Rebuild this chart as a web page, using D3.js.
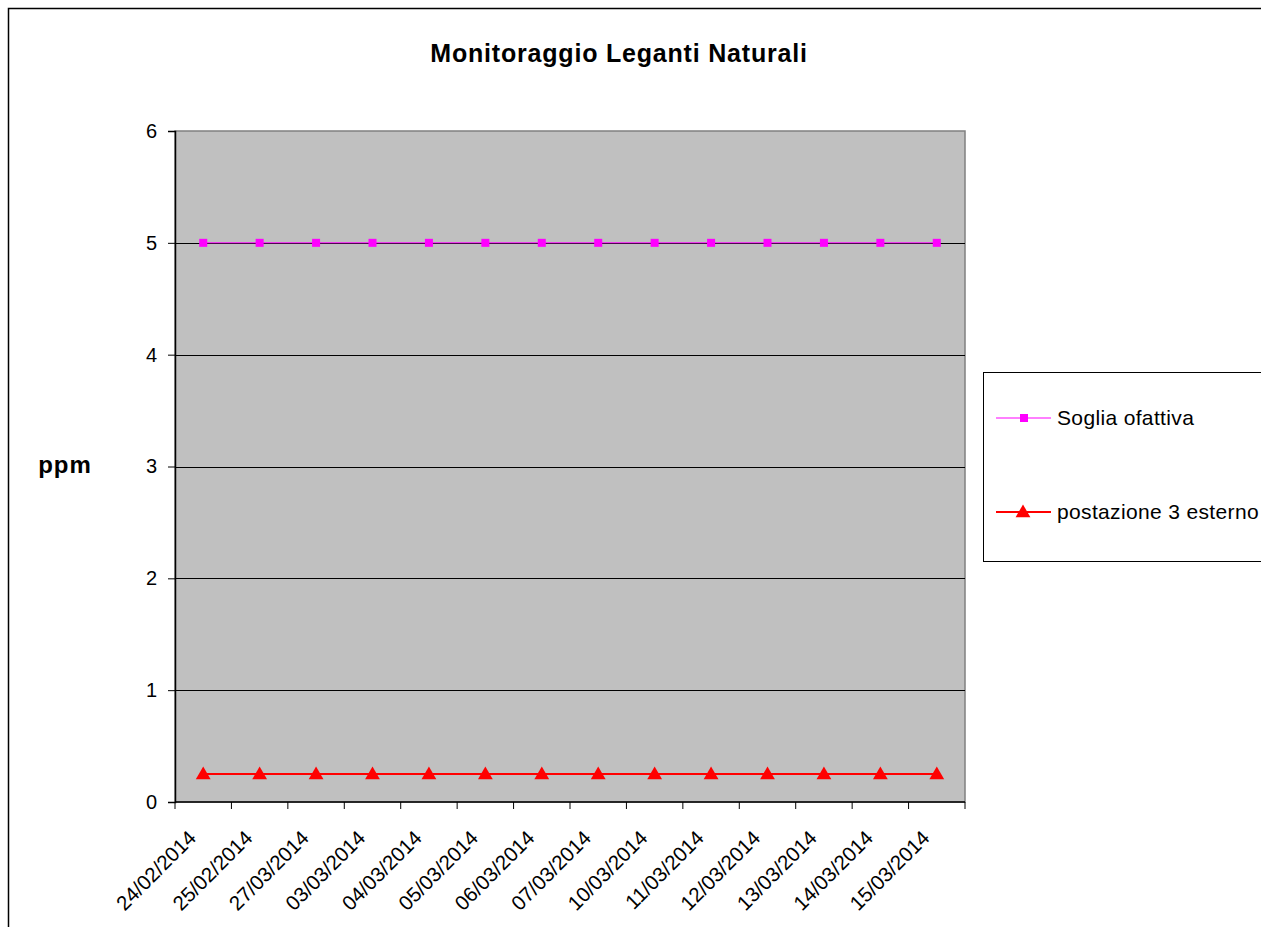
<!DOCTYPE html>
<html>
<head>
<meta charset="utf-8">
<script src="https://cdn.jsdelivr.net/npm/d3@7"></script>
<style>
  body { margin: 0; background: #fff; }
  svg { display: block; font-family: "Liberation Sans", Arial, sans-serif; }
</style>
</head>
<body>
<svg id="chart" width="1261" height="927"></svg>
<script>
// Data
const dates = ["24/02/2014", "25/02/2014", "27/03/2014", "03/03/2014", "04/03/2014",
  "05/03/2014", "06/03/2014", "07/03/2014", "10/03/2014", "11/03/2014",
  "12/03/2014", "13/03/2014", "14/03/2014", "15/03/2014"];
const sogliaValues = [5, 5, 5, 5, 5, 5, 5, 5, 5, 5, 5, 5, 5, 5];
const postazioneValues = [0.25, 0.25, 0.25, 0.25, 0.25, 0.25, 0.25, 0.25, 0.25, 0.25, 0.25, 0.25, 0.25, 0.25];
const yTicks = [0, 1, 2, 3, 4, 5, 6];

const svg = d3.select('#chart');

// outer chart border (runs off the right/bottom edge)
svg.append('rect')
  .attr('x', 8.5).attr('y', 8.5)
  .attr('width', 1300).attr('height', 1000)
  .attr('fill', '#fff')
  .attr('stroke', '#000').attr('stroke-width', 1.5);

const plot = { left: 175, right: 965, top: 131, bottom: 802 };

const x = d3.scaleBand()
  .domain(dates)
  .range([plot.left, plot.right]);

const y = d3.scaleLinear()
  .domain([0, 6])
  .range([plot.bottom, plot.top]);

// grey plot area
svg.append('rect')
  .attr('x', plot.left).attr('y', plot.top)
  .attr('width', plot.right - plot.left).attr('height', plot.bottom - plot.top)
  .attr('fill', '#c0c0c0')
  .attr('stroke', '#808080').attr('stroke-width', 1.5);

// horizontal gridlines
svg.append('g')
  .selectAll('line')
  .data(yTicks.filter(d => d > 0 && d < 6))
  .join('line')
  .attr('x1', plot.left).attr('x2', plot.right)
  .attr('y1', d => Math.round(y(d)) + 0.5).attr('y2', d => Math.round(y(d)) + 0.5)
  .attr('stroke', '#000').attr('stroke-width', 1);

// y axis
const yAxis = svg.append('g')
  .attr('transform', `translate(${plot.left},0)`)
  .call(d3.axisLeft(y).tickValues(yTicks).tickSize(7).tickPadding(11).tickFormat(d3.format('d')));
yAxis.select('.domain').attr('stroke', '#000').attr('stroke-width', 1.5);
yAxis.selectAll('.tick line').attr('stroke', '#000');
yAxis.selectAll('text').style('font-size', '20px').attr('fill', '#000');

// x axis with ticks between categories
const xAxis = svg.append('g')
  .attr('transform', `translate(0,${plot.bottom})`);
xAxis.append('line')
  .attr('x1', plot.left).attr('x2', plot.right)
  .attr('y1', 0).attr('y2', 0)
  .attr('stroke', '#000').attr('stroke-width', 1.5);
const tickPos = dates.map(d => x(d)).concat([plot.right]);
xAxis.selectAll('line.tk')
  .data(tickPos)
  .join('line')
  .attr('class', 'tk')
  .attr('x1', d => d).attr('x2', d => d)
  .attr('y1', 0).attr('y2', 7)
  .attr('stroke', '#000');
xAxis.selectAll('text')
  .data(dates)
  .join('text')
  .attr('transform', d => `translate(${x(d) + x.bandwidth() / 2 - 11},${32}) rotate(-45)`)
  .attr('text-anchor', 'end')
  .attr('dy', '0.35em')
  .style('font-size', '20.5px')
  .text(d => d);

// series lines
const cx = d => x(d) + x.bandwidth() / 2;

const line1 = d3.line().x((d, i) => cx(dates[i])).y(d => y(d));
svg.append('path')
  .datum(sogliaValues)
  .attr('d', line1)
  .attr('fill', 'none')
  .attr('stroke', '#ff00ff').attr('stroke-width', 1);

svg.append('path')
  .datum(postazioneValues)
  .attr('d', line1)
  .attr('fill', 'none')
  .attr('stroke', '#ff0000').attr('stroke-width', 2);

// markers
svg.append('g')
  .selectAll('rect')
  .data(sogliaValues)
  .join('rect')
  .attr('x', (d, i) => cx(dates[i]) - 4)
  .attr('y', d => y(d) - 4)
  .attr('width', 8).attr('height', 8)
  .attr('fill', '#ff00ff');

const tri = d3.symbol().type(d3.symbolTriangle).size(95);
svg.append('g')
  .selectAll('path')
  .data(postazioneValues)
  .join('path')
  .attr('transform', (d, i) => `translate(${cx(dates[i])},${y(d) + 1})`)
  .attr('d', tri)
  .attr('fill', '#ff0000');

// title
svg.append('text')
  .attr('x', 619).attr('y', 62)
  .attr('text-anchor', 'middle')
  .style('font-size', '25px').style('font-weight', 'bold')
  .style('letter-spacing', '0.8px')
  .text('Monitoraggio Leganti Naturali');

// y label
svg.append('text')
  .attr('x', 65).attr('y', 473)
  .attr('text-anchor', 'middle')
  .style('font-size', '24px').style('font-weight', 'bold')
  .style('letter-spacing', '1px')
  .text('ppm');

// legend
const legend = svg.append('g');
legend.append('rect')
  .attr('x', 983.5).attr('y', 372.5)
  .attr('width', 300).attr('height', 189)
  .attr('fill', '#fff')
  .attr('stroke', '#000').attr('stroke-width', 1);

const legendItems = [
  { label: 'Soglia ofattiva', color: '#ff00ff', width: 1, marker: 'square', yPos: 418 },
  { label: 'postazione 3 esterno', color: '#ff0000', width: 2, marker: 'triangle', yPos: 512 }
];
const li = legend.selectAll('g.item')
  .data(legendItems)
  .join('g')
  .attr('class', 'item')
  .attr('transform', d => `translate(0,${d.yPos})`);
li.append('line')
  .attr('x1', 996).attr('x2', 1051)
  .attr('y1', 0).attr('y2', 0)
  .attr('stroke', d => d.color).attr('stroke-width', d => d.width);
li.filter(d => d.marker === 'square').append('rect')
  .attr('x', 1020).attr('y', -4).attr('width', 8).attr('height', 8)
  .attr('fill', d => d.color);
li.filter(d => d.marker === 'triangle').append('path')
  .attr('transform', 'translate(1023,1)')
  .attr('d', tri)
  .attr('fill', d => d.color);
li.append('text')
  .attr('x', 1057).attr('y', 0)
  .attr('dy', '0.35em')
  .style('font-size', '21px')
  .style('letter-spacing', '0.35px')
  .text(d => d.label);
</script>
</body>
</html>
